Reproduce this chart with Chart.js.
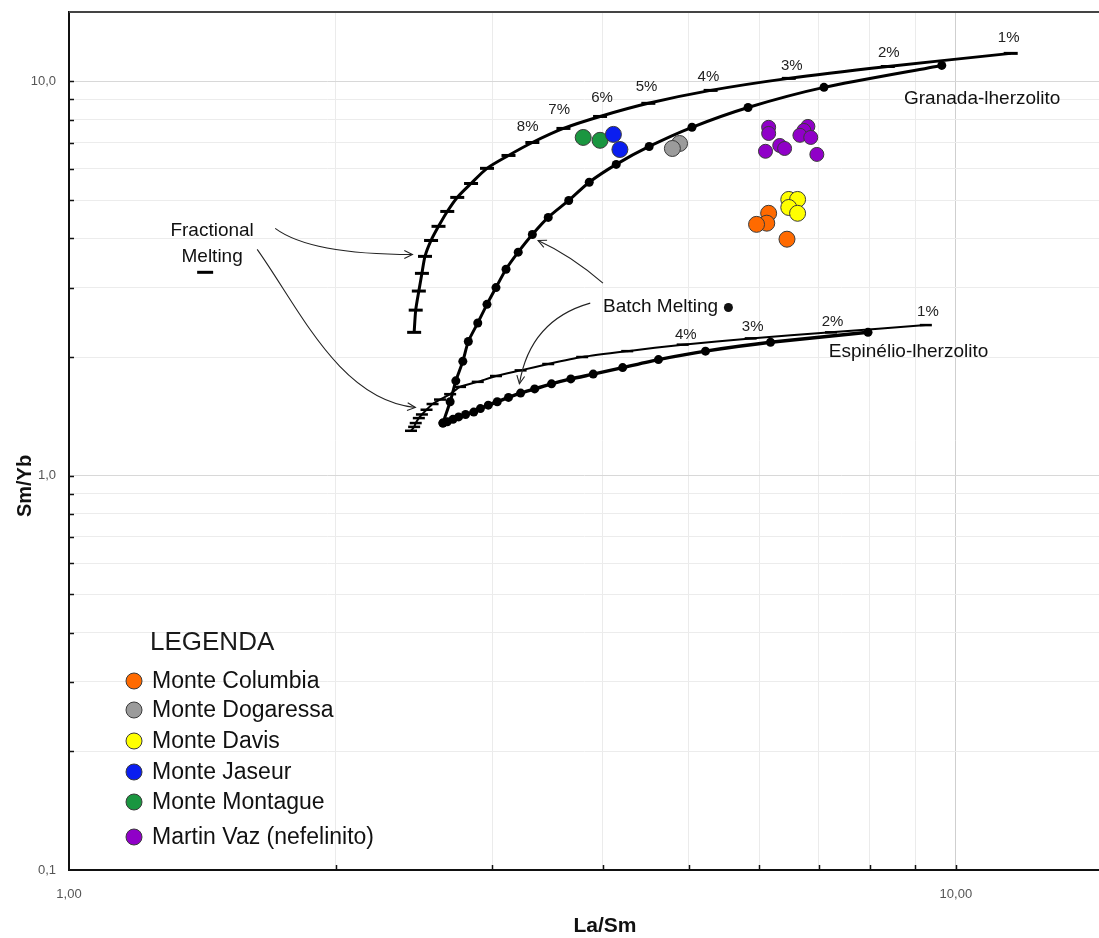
<!DOCTYPE html>
<html><head><meta charset="utf-8">
<script src="https://cdn.jsdelivr.net/npm/chart.js@4.4.0/dist/chart.umd.min.js"></script>
<style>html,body{margin:0;padding:0;background:#fff;}#wrap{width:1099px;height:938px;}</style>
</head><body><div id="wrap"><canvas id="c" width="1099" height="938"></canvas></div>
<script>
// ---------- model curves ----------
// Garnet lherzolite, fractional melting (1% -> 20%)
const gFracX = [11.53,8.38,6.48,5.29,4.50,3.97,3.61,3.33,3.13,2.96,2.84,2.74,2.67,2.61,2.56,2.52,2.50,2.48,2.46,2.45];
const gFracY = [11.78,10.91,10.18,9.49,8.80,8.15,7.60,7.00,6.49,6.02,5.51,5.08,4.68,4.29,3.95,3.60,3.26,2.94,2.63,2.31];
// Garnet lherzolite, batch melting
const gBatchX = [9.64,7.10,5.83,5.04,4.51,4.14,3.86,3.66,3.47,3.33,3.21,3.11,3.03,2.96,2.89,2.82,2.78,2.73,2.69,2.64];
const gBatchY = [10.98,9.66,8.59,7.65,6.84,6.16,5.55,4.99,4.52,4.09,3.69,3.34,3.00,2.72,2.44,2.19,1.95,1.74,1.54,1.36];
// Spinel lherzolite, fractional melting
const sFracX = [9.25,7.23,5.87,4.92,4.26,3.79,3.47,3.23,3.03,2.89,2.76,2.69,2.62,2.57,2.53,2.50,2.48,2.46,2.45,2.43];
const sFracY = [2.41,2.31,2.23,2.15,2.07,2.00,1.92,1.85,1.79,1.73,1.68,1.61,1.56,1.52,1.47,1.43,1.40,1.36,1.33,1.30];
// Spinel lherzolite, batch melting
const sBatchX = [7.96,6.18,5.22,4.62,4.21,3.90,3.68,3.50,3.35,3.23,3.13,3.04,2.97,2.91,2.86,2.80,2.75,2.71,2.67,2.64];
const sBatchY = [2.31,2.18,2.07,1.97,1.88,1.81,1.76,1.71,1.66,1.62,1.58,1.54,1.51,1.48,1.45,1.43,1.41,1.39,1.37,1.36];

// ---------- samples ----------
const columbiaX = [6.15,6.12,5.96,6.45];           const columbiaY = [4.63,4.37,4.34,3.98];
const dogaressaX = [4.88,4.79];                      const dogaressaY = [6.96,6.76];
const davisX = [6.48,6.63,6.48,6.63];                const davisY = [5.02,5.02,4.79,4.63];
const jaseurX = [4.11,4.18];                         const jaseurY = [7.34,6.72];
const montagueX = [3.80,3.97];                       const montagueY = [7.21,7.09];
const martinX = [6.15,6.15,6.10,6.33,6.41,6.81,6.74,6.67,6.86,6.97];
const martinY = [7.65,7.38,6.65,6.88,6.76,7.69,7.51,7.30,7.21,6.53];

const sampleNames = ['Monte Columbia','Monte Dogaressa','Monte Davis','Monte Jaseur','Monte Montague','Martin Vaz (nefelinito)'];
const sampleColors = ['#FF6A00','#9B9B9B','#FFFF00','#0A1EF0','#1A9640','#9000C8'];

// ---------- axis ticks ----------
const xTickValues = [1,2,3,4,5,6,7,8,9,10];
const xTickLabels = {1:'1,00', 10:'10,00'};
const yTickValues = [0.1,0.2,0.3,0.4,0.5,0.6,0.7,0.8,0.9,1,2,3,4,5,6,7,8,9,10];
const yTickLabels = {0.1:'0,1', 1:'1,0', 10:'10,0'};

// ---------- annotations (data coordinates) ----------
const gPctText = ['1%','2%','3%','4%','5%','6%','7%','8%'];
const gPctX = [11.47,8.40,6.53,5.26,4.48,3.99,3.57,3.29];
const gPctY = [12.93,11.85,10.98,10.30,9.71,9.11,8.45,7.69];
const sPctText = ['1%','2%','3%','4%'];
const sPctX = [9.30,7.26,5.90,4.96];
const sPctY = [2.60,2.46,2.39,2.27];

const zip = (a,b) => a.map((v,i)=>({x:v,y:b[i]}));
const FAM = '"Liberation Sans", Arial, sans-serif';

const sampleData = [zip(columbiaX,columbiaY), zip(dogaressaX,dogaressaY), zip(davisX,davisY),
                    zip(jaseurX,jaseurY), zip(montagueX,montagueY), zip(martinX,martinY)];

const datasets = sampleData.map((d,i)=>({
  label: sampleNames[i], data: d, showLine:false,
  backgroundColor: sampleColors[i], borderColor:'#3a3a3a', borderWidth:1,
  pointRadius: i===5 ? 7 : 8
}));
datasets.push(
  {label:'gFrac', data:zip(gFracX,gFracY), showLine:true, borderColor:'#000', borderWidth:3,
   pointStyle:'line', pointRadius:7, pointBorderWidth:3, pointBorderColor:'#000', tension:0.25},
  {label:'gBatch', data:zip(gBatchX,gBatchY), showLine:true, borderColor:'#000', borderWidth:3,
   pointStyle:'circle', pointRadius:4.5, pointBackgroundColor:'#000', pointBorderWidth:0, tension:0.25},
  {label:'sFrac', data:zip(sFracX,sFracY), showLine:true, borderColor:'#000', borderWidth:2,
   pointStyle:'line', pointRadius:6, pointBorderWidth:2.5, pointBorderColor:'#000', tension:0.2},
  {label:'sBatch', data:zip(sBatchX,sBatchY), showLine:true, borderColor:'#000', borderWidth:3.5,
   pointStyle:'circle', pointRadius:4.5, pointBackgroundColor:'#000', pointBorderWidth:0, tension:0.2}
);

function arrowHead(ctx, fx, fy, tx, ty){
  const ang = Math.atan2(ty-fy, tx-fx), L = 9, s = 0.45;
  ctx.beginPath();
  ctx.moveTo(tx - L*Math.cos(ang-s), ty - L*Math.sin(ang-s));
  ctx.lineTo(tx, ty);
  ctx.lineTo(tx - L*Math.cos(ang+s), ty - L*Math.sin(ang+s));
  ctx.stroke();
}

const decor = {
  id:'decor',
  beforeDatasetsDraw(chart){
    const {ctx, chartArea:a, scales:{x,y}} = chart;
    ctx.save();
    ctx.strokeStyle = '#111'; ctx.lineWidth = 1.5;
    xTickValues.forEach(v=>{ if(v===1) return; const px = Math.round(x.getPixelForValue(v))+0.5;
      ctx.beginPath(); ctx.moveTo(px,a.bottom); ctx.lineTo(px,a.bottom-5); ctx.stroke(); });
    yTickValues.forEach(v=>{ if(v===0.1) return; const py = Math.round(y.getPixelForValue(v))+0.5;
      ctx.beginPath(); ctx.moveTo(a.left,py); ctx.lineTo(a.left+5,py); ctx.stroke(); });
    ctx.strokeStyle = '#444'; ctx.lineWidth = 2;
    ctx.beginPath(); ctx.moveTo(a.left, a.top); ctx.lineTo(a.right, a.top); ctx.stroke();
    ctx.restore();
  },
  afterDatasetsDraw(chart){
    const {ctx, scales:{x,y}} = chart;
    const P = (a,b)=>[x.getPixelForValue(a), y.getPixelForValue(b)];
    ctx.save();
    ctx.fillStyle = '#111'; ctx.textBaseline = 'middle';
    ctx.font = '15px '+FAM; ctx.textAlign = 'center'; ctx.fillStyle = '#222';
    gPctText.forEach((t,i)=>{ const [px,py]=P(gPctX[i],gPctY[i]); ctx.fillText(t,px,py); });
    sPctText.forEach((t,i)=>{ const [px,py]=P(sPctX[i],sPctY[i]); ctx.fillText(t,px,py); });
    ctx.fillStyle = '#111'; ctx.font = '19px '+FAM;
    let p = P(1.45,4.17); ctx.fillText('Fractional', p[0], p[1]);
    p = P(1.45,3.60); ctx.fillText('Melting', p[0], p[1]);
    ctx.textAlign = 'left';
    p = P(4.00,2.69); ctx.fillText('Batch Melting', p[0], p[1]);
    p = P(8.74,9.06); ctx.fillText('Granada-lherzolito', p[0], p[1]);
    p = P(7.19,2.06); ctx.fillText('Espinélio-lherzolito', p[0], p[1]);
    p = P(1.424,3.28);
    ctx.strokeStyle = '#000'; ctx.lineWidth = 3;
    ctx.beginPath(); ctx.moveTo(p[0]-8,p[1]); ctx.lineTo(p[0]+8,p[1]); ctx.stroke();
    p = P(5.54,2.67);
    ctx.beginPath(); ctx.arc(p[0],p[1],4.5,0,Math.PI*2); ctx.fill();
    ctx.strokeStyle = '#222'; ctx.lineWidth = 1.1;
    let s=P(1.708,4.24), c=P(1.871,3.64), e=P(2.439,3.64);
    ctx.beginPath(); ctx.moveTo(...s); ctx.quadraticCurveTo(...c, ...e); ctx.stroke(); arrowHead(ctx,...c,...e);
    s=P(1.630,3.75); const c1=P(1.823,2.63), c2=P(2.022,1.554); e=P(2.458,1.49);
    ctx.beginPath(); ctx.moveTo(...s); ctx.bezierCurveTo(...c1, ...c2, ...e); ctx.stroke(); arrowHead(ctx,...c2,...e);
    s=P(4.00,3.08); c=P(3.68,3.62); e=P(3.38,3.95);
    ctx.beginPath(); ctx.moveTo(...s); ctx.quadraticCurveTo(...c, ...e); ctx.stroke(); arrowHead(ctx,...c,...e);
    s=P(3.87,2.74); c=P(3.31,2.48); e=P(3.22,1.71);
    ctx.beginPath(); ctx.moveTo(...s); ctx.quadraticCurveTo(...c, ...e); ctx.stroke(); arrowHead(ctx,...c,...e);
    ctx.restore();
  },
  afterDraw(chart){
    const {ctx} = chart;
    ctx.save();
    ctx.fillStyle = '#111'; ctx.textAlign='center'; ctx.textBaseline='middle';
    ctx.font = 'bold 21px '+FAM;
    ctx.fillText('La/Sm', 605, 926);
    ctx.translate(25, 486); ctx.rotate(-Math.PI/2); ctx.font = 'bold 20px '+FAM;
    ctx.fillText('Sm/Yb', 0, 0);
    ctx.restore();
    ctx.save();
    ctx.textAlign='left'; ctx.textBaseline='middle';
    ctx.fillStyle='#1a1a1a'; ctx.font = '26px '+FAM;
    ctx.fillText('LEGENDA', 150, 643);
    const ys = [681,710,741,772,802,837];
    ctx.font = '23px '+FAM;
    sampleNames.forEach((n,i)=>{
      ctx.beginPath(); ctx.arc(134, ys[i], 8, 0, Math.PI*2);
      ctx.fillStyle = sampleColors[i]; ctx.fill();
      ctx.strokeStyle = '#3a3a3a'; ctx.lineWidth = 1; ctx.stroke();
      ctx.fillStyle = '#111'; ctx.fillText(n, 152, ys[i]+1);
    });
    ctx.restore();
  }
};

const near = (a,b)=>Math.abs(a-b) < 1e-9*Math.max(1,Math.abs(b));

new Chart(document.getElementById('c'), {
  type:'scatter',
  data:{datasets},
  options:{
    responsive:false, animation:false, devicePixelRatio:1,
    layout:{autoPadding:false, padding:{top:12,right:0,left:0,bottom:0}},
    plugins:{legend:{display:false}, tooltip:{enabled:false}},
    scales:{
      x:{type:'logarithmic', min:1, max:14.5,
        afterBuildTicks:s=>{ s.ticks = xTickValues.map(v=>({value:v})); },
        afterFit:s=>{ s.height = 68; s.paddingLeft = 0; s.paddingRight = 0; },
        ticks:{autoSkip:false, maxRotation:0, padding:17, color:'#555', font:{size:13, family:FAM},
          callback:(v)=>{ for(const k in xTickLabels){ if(near(v,+k)) return xTickLabels[k]; } return ''; }},
        grid:{drawTicks:false, lineWidth:1, color:c=> (c.tick && near(c.tick.value,10)) ? '#cfcfcf' : '#ebebeb'},
        border:{color:'#111', width:2}
      },
      y:{type:'logarithmic', min:0.1, max:15,
        afterBuildTicks:s=>{ s.ticks = yTickValues.map(v=>({value:v})); },
        afterFit:s=>{ s.width = 69; s.paddingTop = 0; s.paddingBottom = 0; },
        ticks:{autoSkip:false, padding:13, color:'#555', font:{size:13, family:FAM},
          callback:(v)=>{ for(const k in yTickLabels){ if(near(v,+k)) return yTickLabels[k]; } return ''; }},
        grid:{drawTicks:false, lineWidth:1, color:c=> (c.tick && (near(c.tick.value,10)||near(c.tick.value,1))) ? '#d8d8d8' : '#ececec'},
        border:{color:'#111', width:2}
      }
    }
  },
  plugins:[decor]
});
</script>
</body></html>
